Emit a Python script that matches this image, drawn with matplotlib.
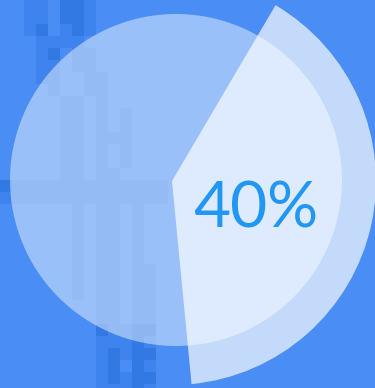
import numpy as np
import matplotlib.pyplot as plt
from matplotlib.patches import Circle
from matplotlib.colors import ListedColormap

# value shown on the gauge
value = 40
slices = [value, 100 - value]
label = f"{value}%"

# blurred mosaic backdrop (0 = base, 1 = medium, 2 = dark), 12px blocks, left part only
mosaic = [
    "0011022100000000",
    "0011022100000000",
    "0012012100000000",
    "0001111000000000",
    "0001201100000000",
    "0001101100000000",
    "0001100110000000",
    "0000100110000000",
    "0000011010000000",
    "0000011010100000",
    "0000011010100000",
    "0000011011100000",
    "0000011010100000",
    "0000011010100000",
    "0000011011000000",
    "2111111111111100",
    "1111111111111100",
    "0000001011010000",
    "0000001011010000",
    "0000001011010000",
    "0000001011010000",
    "0000001011010000",
    "0000001011011000",
    "0000001011011000",
    "0000001011011000",
    "0000000011011000",
    "0000000011011000",
    "0000000021122000",
    "0000000011121000",
    "0000000012122000",
    "0000000012021000",
    "0000000012122000",
    "0000000011121000",
]
grid = np.array([[int(c) for c in row] for row in mosaic])
full = np.zeros((grid.shape[0], 32), dtype=int)
full[:, :grid.shape[1]] = grid

W, H = 375, 388
fig = plt.figure(figsize=(W / 100, H / 100), dpi=100)
ax = fig.add_axes([0, 0, 1, 1])

cmap = ListedColormap(["#498df5", "#3f84ee", "#3279e4"])
ax.imshow(full, cmap=cmap, vmin=0, vmax=2, interpolation="nearest",
          extent=(0, 32 * 12, H - full.shape[0] * 12, H), zorder=0)

# translucent track circle
ax.add_patch(Circle((176, H - 180), 166, facecolor="white", alpha=0.45,
                    edgecolor="none", zorder=1))

# value wedge
wedges, _ = ax.pie(slices, radius=204, center=(172, H - 181), startangle=-84.5,
                   colors=["white", "none"], frame=True,
                   wedgeprops=dict(linewidth=0, alpha=0.68))
wedges[1].set_visible(False)
ax.set_xlim(0, W)
ax.set_ylim(0, H)
ax.set_aspect("auto")
ax.axis("off")

ax.text(256, H - 209, label, ha="center", va="center", fontsize=46,
        color="#2196f3", family="Lato", zorder=5)

fig.savefig("out.png", dpi=100)
